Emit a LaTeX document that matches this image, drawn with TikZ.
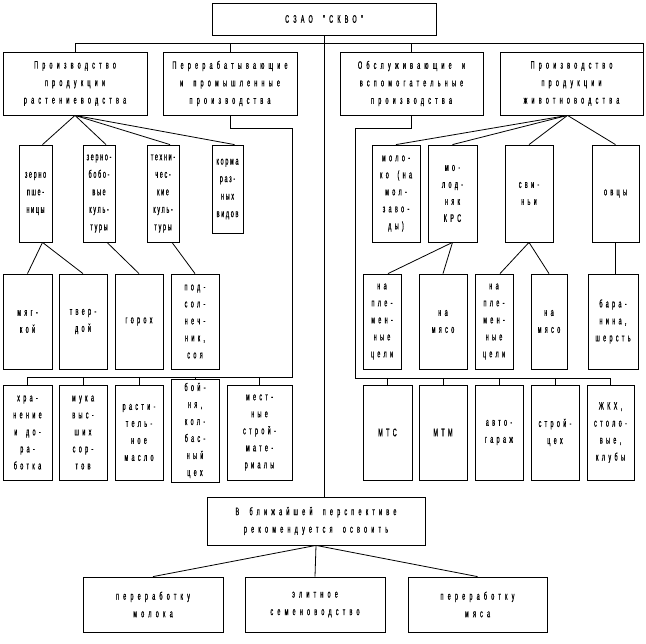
\documentclass[tikz,border=0pt]{standalone}
\usepackage{fontspec}
\setmainfont{Liberation Sans}[FakeStretch=0.5]
\newfontfamily\fnarrow{Liberation Sans}[FakeStretch=0.5, FakeBold=0.6, LetterSpace=15, WordSpace=1.8]
\newfontfamily\fmedium{Liberation Sans}[FakeStretch=0.5, FakeBold=0.6, LetterSpace=30, WordSpace=1.8]
\newfontfamily\fwide{Liberation Sans}[FakeStretch=0.5, FakeBold=0.6, LetterSpace=38, WordSpace=1.8]
\tikzset{
  box/.style={draw, line width=0.8pt, inner sep=0pt, align=center},
  narrowbox/.style={box, font={\fnarrow\fontsize{11}{17.5}\selectfont}},
  medbox/.style={box, font={\fmedium\fontsize{11}{17}\selectfont}},
  widebox/.style={box, font={\fwide\fontsize{11}{17.5}\selectfont}},
  link/.style={line width=0.8pt}
}
\begin{document}
\begin{tikzpicture}[x=1pt, y=-1pt]
    \useasboundingbox (0,0) rectangle (646,644);

    % 1. Верхний уровень
    \node[widebox, minimum width=224, minimum height=32] (szao) at (324,19) {СЗАО "СКВО"};
    \node[widebox, minimum width=144, minimum height=63] (rast) at (75,83.5) {Производство\\продукции\\растениеводства};
    \node[widebox, minimum width=134, minimum height=63] (pererab) at (230,83.5) {Перерабатывающие\\и промышленные\\производства};
    \node[widebox, minimum width=143, minimum height=63] (obsl) at (411.5,83.5) {Обслуживающие и\\вспомогательные\\производства};
    \node[widebox, minimum width=143, minimum height=63] (zhiv) at (571.5,83.5) {Производство\\продукции\\животноводства};

    % 2. Растениеводство
    \node[narrowbox, minimum width=33, minimum height=97] (zerno) at (35.5,193.5) {зерно\\пше-\\ницы};
    \node[narrowbox, minimum width=32, minimum height=97] (zernobob) at (99,193.5) {зерно-\\бобо-\\вые\\куль-\\туры};
    \node[narrowbox, minimum width=32, minimum height=97] (tehn) at (163,193.5) {техни-\\чес-\\кие\\куль-\\туры};
    \node[narrowbox, minimum width=31, minimum height=88] (korma) at (227.5,189) {корма\\раз-\\ных\\видов};

    \node[medbox, minimum width=49, minimum height=95] (myag) at (27.5,321.5) {мяг-\\кой};
    \node[medbox, minimum width=48, minimum height=95] (tverd) at (83,321.5) {твер-\\дой};
    \node[medbox, minimum width=48, minimum height=95] (goroh) at (139,321.5) {горох};
    \node[medbox, minimum width=48, minimum height=95] (podsol) at (195,321.5) {под-\\сол-\\неч-\\ник,\\соя};

    % 3. Перерабатывающие
    \node[medbox, minimum width=49, minimum height=95] (hran) at (27.5,432.5) {хра-\\нение\\и до-\\ра-\\ботка};
    \node[medbox, minimum width=48, minimum height=95] (muka) at (83,432.5) {мука\\выс-\\ших\\сор-\\тов};
    \node[medbox, minimum width=48, minimum height=95] (maslo) at (139,432.5) {расти-\\тель-\\ное\\масло};
    \node[medbox, minimum width=48, minimum height=103] (boynya) at (195,430.5) {бой-\\ня,\\кол-\\бас-\\ный\\цех};
    \node[medbox, minimum width=65, minimum height=95] (stroym) at (259.5,432.5) {мест-\\ные\\строй-\\мате-\\риалы};

    % 4. Животноводство
    \node[medbox, minimum width=48, minimum height=97] (moloko) at (396,193.5) {моло-\\ко (на\\мол-\\заво-\\ды)};
    \node[medbox, minimum width=49, minimum height=97] (molod) at (452.5,193.5) {мо-\\лод-\\няк\\КРС};
    \node[medbox, minimum width=48, minimum height=97] (svin) at (529,193.5) {сви-\\ньи};
    \node[medbox, minimum width=47, minimum height=97] (ovcy) at (615.5,193.5) {овцы};

    \node[medbox, minimum width=38, minimum height=95] (plem1) at (382,321.5) {на\\пле-\\мен-\\ные\\цели};
    \node[medbox, minimum width=48, minimum height=95] (myaso1) at (443,321.5) {на\\мясо};
    \node[medbox, minimum width=38, minimum height=95] (plem2) at (494,321.5) {на\\пле-\\мен-\\ные\\цели};
    \node[medbox, minimum width=36, minimum height=95] (myaso2) at (549,321.5) {на\\мясо};
    \node[medbox, minimum width=50, minimum height=95] (baran) at (613,321.5) {бара-\\нина,\\шерсть};

    % 5. Обслуживающие
    \node[medbox, minimum width=49, minimum height=95] (mts) at (387.5,432.5) {МТС};
    \node[medbox, minimum width=48, minimum height=95] (mtm) at (443,432.5) {МТМ};
    \node[medbox, minimum width=48, minimum height=95] (garazh) at (499,432.5) {авто-\\гараж};
    \node[medbox, minimum width=48, minimum height=95] (stroyc) at (555,432.5) {строй-\\цех};
    \node[medbox, minimum width=47, minimum height=95] (zhkh) at (610.5,432.5) {ЖКХ,\\столо-\\вые,\\клубы};

    % 6. Перспектива
    \node[widebox, minimum width=218, minimum height=48] (persp) at (316,521) {В ближайшей перспективе\\рекомендуется освоить};
    \node[widebox, minimum width=140, minimum height=55] (pmol) at (153,604.5) {переработку\\молока};
    \node[widebox, minimum width=140, minimum height=55] (elit) at (315,604.5) {элитное\\семеноводство};
    \node[widebox, minimum width=139, minimum height=55] (pmyas) at (477.5,604.5) {переработку\\мяса};

    % Соединительные линии
    \coordinate (topbus) at (0,43);
    \coordinate (lbus) at (27.5,377);
    \coordinate (rbus) at (355,378);
    \draw[link] (rast.north) |- (topbus -| zhiv.north east) -- (zhiv.north east);
    \draw[link] (pererab.north) -- (pererab.north |- topbus);
    \draw[link] (obsl.north) -- (obsl.north |- topbus);
    \draw[link] (szao.south) -- (szao.south |- persp.north);

    \foreach \n in {zerno, zernobob, tehn, korma}
        \draw[link] (rast.south) -- ([xshift=7pt]\n.north);
    \foreach \n in {moloko, molod, svin, ovcy}
        \draw[link] ([xshift=-4pt]zhiv.south) -- (\n.north);

    \draw[link] ([xshift=7pt]zerno.south) -- (myag.north);
    \draw[link] ([xshift=7pt]zerno.south) -- (tverd.north);
    \draw[link] ([xshift=8pt]zernobob.south) -- (goroh.north);
    \draw[link] ([xshift=9pt]tehn.south) -- (podsol.north);

    \draw[link] (molod.south) -- ([xshift=6pt]plem1.north);
    \draw[link] (molod.south) -- (myaso1.north);
    \draw[link] (svin.south) -- ([xshift=6pt]plem2.north);
    \draw[link] (svin.south) -- (myaso2.north);
    \draw[link] (ovcy.south) -- (ovcy.south |- baran.north);

    \draw[link] (pererab.south) -- ++(0,13) -| (stroym.east |- lbus) -- (lbus) -- (hran.north);
    \foreach \n in {muka, maslo, boynya, stroym}
        \draw[link] (\n.north |- lbus) -- (\n.north);

    \draw[link] (obsl.south) -- ++(0,13) -| (rbus) -- (rbus -| zhkh.north) -- (zhkh.north);
    \foreach \n in {mts, mtm, garazh, stroyc}
        \draw[link] (\n.north |- rbus) -- (\n.north);

    \foreach \n in {pmol, elit, pmyas}
        \draw[link] (persp.south) -- (\n.north);

\end{tikzpicture}
\end{document}
